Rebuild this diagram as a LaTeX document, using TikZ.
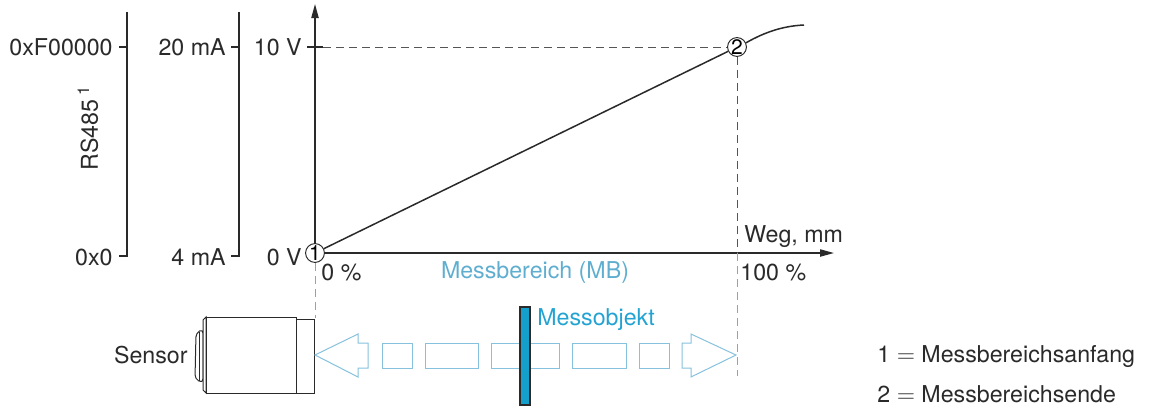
\documentclass[tikz,border=0pt]{standalone}
\usepackage{fontspec}
\setmainfont{TeX Gyre Heros}
\usetikzlibrary{arrows.meta,positioning,calc}
\definecolor{MBText}{HTML}{5FAED0}
\definecolor{MBLine}{HTML}{86C2DD}
\definecolor{MBDash}{HTML}{6FB0CE}
\definecolor{ObjCyan}{HTML}{14A0CA}
\definecolor{ObjText}{HTML}{23A3D2}
\definecolor{DarkGray}{HTML}{2A2A2A}
\tikzset{
  lbl/.style={font=\fontsize{11.6}{13}\selectfont, text=DarkGray, inner sep=0pt},
  axis/.style={line width=0.75pt, draw=DarkGray, -{Triangle[length=7pt,width=3.6pt]}},
  scaleline/.style={line width=0.7pt, draw=DarkGray},
  numcircle/.style={circle, draw=DarkGray, line width=0.5pt, fill=white, inner sep=0pt, minimum size=9pt, font=\fontsize{10.5}{11}\selectfont},
  dashgray/.style={draw=DarkGray!80, line width=0.5pt, dash pattern=on 4pt off 2.5pt},
  dashblue/.style={draw=MBDash, line width=0.5pt, dash pattern=on 4pt off 2.5pt},
  hollow/.style={draw=MBLine, line width=0.5pt, fill=white},
  sensorpart/.style={draw=DarkGray, line width=0.5pt, fill=white},
  objbar/.style={draw=DarkGray, line width=0.6pt, fill=ObjCyan, minimum width=5pt, minimum height=49pt, inner sep=0pt}
}
\begin{document}
\begin{tikzpicture}[x=0.5pt,y=-0.5pt]
\useasboundingbox (0,0) rectangle (1162,408);
% Skalen links
\draw[scaleline] (119,47) -- (127,47) (127,12) -- (127,256) -- (119,256);
\draw[scaleline] (231,47) -- (239,47) (239,12) -- (239,256) -- (231,256);
\node[lbl, anchor=east] (hex1) at (113,47) {0xF00000};
\node[lbl, anchor=east] (hex0) at (113,257) {0x0};
\node[lbl, rotate=90] (rs) at (88,128) {RS485\,\textsuperscript{1}};
\node[lbl, anchor=east] (ma20) at (226,47) {20 mA};
\node[lbl, anchor=east] (ma4) at (226,257) {4 mA};
\node[lbl, anchor=east] (v10) at (302,47) {10 V};
\node[lbl, anchor=east] (v0) at (302,257) {0 V};
% Achsen
\coordinate (o) at (315,253);
\coordinate (ytop) at (315,4);
\coordinate (xend) at (834,253);
\draw[axis] (o) -- (ytop);
\draw[axis] (o) -- (xend);
\draw[scaleline] (307,47) -- (323,47);
% Kennlinie
\node[numcircle] (p1) at (o) {1};
\node[numcircle] (p2) at (737,47) {2};
\coordinate (tick10) at (323,47);
\coordinate (mb100) at (737,253);
\coordinate (mbend) at (737,376);
\coordinate (sfront) at (315,318);
\draw[dashgray] (tick10) -- (p2);
\draw[dashgray] (p2) -- (mb100);
\draw[dashblue] (mb100) -- (mbend);
\draw[dashblue] (p1) -- (sfront);
\draw[line width=0.75pt, draw=DarkGray] (p1) -- (p2);
\draw[line width=0.75pt, draw=DarkGray] (p2.25) .. controls (765,32) and (783,26) .. (804,25);
\node[lbl, anchor=west] (pct0) at (321,273) {0 \%};
\node[lbl, text=MBText] (mb) at (535,272) {Messbereich (MB)};
\node[lbl, anchor=west] (pct100) at (740,273) {100 \%};
\node[lbl, anchor=west] (weg) at (744,237) {Weg, mm};
% Sensor
\draw[sensorpart, rounded corners=2pt] (203,329) -- (196,333) -- (195,379) -- (203,383) -- cycle;
\draw[line width=0.4pt, draw=DarkGray] (199,332) -- (199,381);
\draw[sensorpart] (206,317) -- (203,320) -- (203,390) -- (206,393) -- cycle;
\draw[sensorpart] (206,317) rectangle (296,393);
\draw[sensorpart] (296,319) rectangle (314,393);
\node[lbl, anchor=east] (sensor) at (188,355) {Sensor};
% Doppelpfeil Messbereich
\draw[hollow] (315,355) -- (358,334) -- (358,343) -- (368,343) -- (368,368) -- (358,368) -- (358,377) -- cycle;
\foreach \xa/\xb in {382/412, 425/478, 491/559, 572/626, 639/669}
  \draw[hollow] (\xa,343) rectangle (\xb,368);
\draw[hollow] (736,355) -- (691,334) -- (691,343) -- (682,343) -- (682,368) -- (691,368) -- (691,377) -- cycle;
\node[objbar] (obj) at (525,356) {};
\node[lbl, text=ObjText, anchor=west] (objtxt) at (537,320) {Messobjekt};
% Legende
\node[lbl, anchor=west] (leg1) at (877,357) {1 $=$ Messbereichsanfang};
\node[lbl, anchor=west] (leg2) at (877,394) {2 $=$ Messbereichsende};
\end{tikzpicture}
\end{document}
